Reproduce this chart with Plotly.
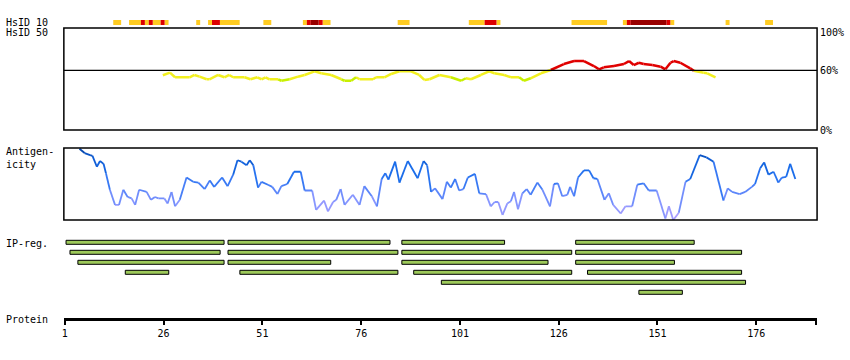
import plotly.graph_objects as go

W, H = 850, 360
X0_PX, X1_PX = 62, 817
PX_PER_RES = 3.96
RES_AT_X0 = 1 - (63 - X0_PX) / PX_PER_RES
RES_AT_X1 = RES_AT_X0 + (X1_PX - X0_PX) / PX_PER_RES
FONT = "DejaVu Sans Mono"


def pyf(p):
    return 1 - p / H


def pxf(p):
    return p / W


# ---------------- data ----------------
protein_ticks = [1, 26, 51, 76, 101, 126, 151, 176]

# HsID 10 strip: residue segments, level 1=yellow, 2=red, 3=dark red
hs10_first = [13, 17, 20, 21, 22, 23, 25, 26, 34, 37, 38, 40, 51, 61, 62, 63, 65, 66, 85,
              103, 107, 110, 129, 142, 143, 144, 153, 154, 168, 178]
hs10_last = [14, 19, 20, 21, 22, 24, 25, 26, 34, 37, 39, 44, 52, 61, 62, 64, 65, 67, 87,
             106, 109, 110, 137, 142, 143, 152, 153, 154, 168, 179]
hs10_level = [1, 1, 2, 1, 2, 1, 2, 1, 1, 1, 2, 1, 1, 1, 2, 3, 2, 1, 1,
              1, 2, 1, 1, 1, 2, 3, 2, 1, 1, 1]

# HsID 50 identity curve (%)
hs50_pos = [25.8, 27.6, 28.9, 32.6, 33.8, 35.1, 36.9, 37.6, 39.8, 41.4, 42.6, 43.6, 46.5, 48.0,
            49.7, 50.8, 51.8, 52.8, 55.0, 55.8, 57.9, 60.0, 61.7, 64.2, 65.9, 68.4, 71.0, 71.8,
            73.5, 74.7, 75.6, 79.0, 79.8, 81.9, 83.6, 85.7, 88.6, 90.7, 92.0, 93.3, 95.8, 98.7,
            101.3, 102.5, 103.8, 106.3, 108.4, 109.7, 112.2, 113.9, 116.0, 117.2, 118.9, 121.5,
            124.0, 127.3, 129.9, 132.4, 134.9, 136.2, 137.4, 140.0, 142.5, 143.8, 145.0, 146.3,
            147.5, 149.7, 151.8, 153.0, 154.3, 155.1, 156.8, 159.3, 160.2, 162.7, 163.6, 165.7]
hs50_val = [55.0, 57.6, 53.0, 53.0, 55.3, 53.6, 51.0, 51.0, 55.3, 53.0, 55.3, 53.0, 53.0, 51.0,
            53.0, 51.0, 53.0, 51.0, 51.0, 49.5, 51.0, 53.6, 55.3, 59.0, 57.0, 55.3, 51.0, 49.5,
            49.5, 53.0, 51.0, 51.0, 53.0, 53.0, 56.3, 59.0, 59.0, 55.3, 50.3, 51.0, 55.3, 53.0,
            49.5, 52.0, 51.0, 55.3, 59.0, 57.0, 55.3, 53.0, 53.0, 49.5, 52.0, 57.0,
            60.3, 66.3, 69.3, 69.3, 64.3, 61.0, 63.0, 64.3, 66.3, 69.3, 65.3, 67.6,
            66.3, 65.3, 63.6, 61.0, 67.6, 69.3, 67.6, 62.0, 59.6, 57.6, 57.0, 53.0]
HS50_THRESHOLD = 60
HS50_TICKS = [0, 60, 100]

# Antigenicity (relative score, 0 = bottom of panel, 1 = top)
ant_pos = [4.7, 6.0, 7.4, 8.0, 9.1, 9.9, 10.8, 11.4, 12.4, 13.7,
           14.7, 15.8, 16.9, 17.9, 18.8, 19.8, 21.7, 22.8, 23.8, 24.7,
           26.2, 27.0, 28.0, 28.9, 30.1, 31.8, 33.5, 34.8, 36.4, 37.7,
           38.8, 40.8, 42.2, 43.6, 44.7, 45.7, 47.0, 47.8, 48.7, 49.9,
           50.8, 52.4, 53.5, 54.8, 55.8, 57.3, 59.0, 60.7, 61.7, 63.6,
           64.6, 66.6, 67.6, 68.9, 69.7, 70.8, 71.8, 73.9, 75.6, 76.8,
           78.7, 80.0, 81.2, 82.1, 82.9, 84.6, 85.7, 87.8, 90.3, 91.8,
           92.7, 93.7, 94.7, 96.6, 97.7, 98.7, 99.8, 100.8, 101.9, 103.0,
           104.8, 105.9, 107.6, 108.8, 109.8, 110.7, 111.8, 113.0, 113.9, 114.7,
           115.7, 116.8, 117.9, 118.9, 120.6, 121.9, 123.8, 124.8, 125.8, 126.9,
           128.2, 128.9, 129.9, 130.9, 132.4, 133.7, 134.8, 135.8, 137.6, 138.7,
           139.8, 141.7, 142.9, 144.6, 145.9, 147.5, 148.8, 150.8, 153.0, 153.9,
           155.0, 156.4, 158.1, 159.3, 161.7, 163.4, 165.2, 167.7, 168.8, 169.9,
           171.8, 173.2, 174.9, 175.7, 177.0, 178.0, 179.1, 180.4, 181.6, 182.5,
           183.6, 184.6, 185.9]
ant_val = [0.99, 0.93, 0.90, 0.89, 0.74, 0.82, 0.78, 0.65, 0.42, 0.21,
           0.21, 0.42, 0.32, 0.30, 0.21, 0.42, 0.39, 0.28, 0.32, 0.30,
           0.30, 0.23, 0.39, 0.19, 0.28, 0.59, 0.53, 0.52, 0.43, 0.55,
           0.46, 0.59, 0.47, 0.63, 0.83, 0.81, 0.76, 0.83, 0.76, 0.45,
           0.53, 0.49, 0.46, 0.36, 0.47, 0.50, 0.67, 0.67, 0.41, 0.41,
           0.14, 0.27, 0.12, 0.25, 0.28, 0.43, 0.21, 0.35, 0.21, 0.47,
           0.33, 0.19, 0.57, 0.65, 0.56, 0.81, 0.52, 0.82, 0.58, 0.82,
           0.76, 0.39, 0.44, 0.29, 0.53, 0.45, 0.57, 0.41, 0.43, 0.59,
           0.64, 0.37, 0.36, 0.19, 0.25, 0.25, 0.07, 0.23, 0.26, 0.39,
           0.15, 0.37, 0.43, 0.35, 0.52, 0.42, 0.19, 0.50, 0.51, 0.33,
           0.35, 0.46, 0.33, 0.59, 0.69, 0.69, 0.58, 0.57, 0.28, 0.37,
           0.21, 0.09, 0.19, 0.19, 0.49, 0.51, 0.41, 0.41, 0.02, 0.19,
           0.00, 0.10, 0.53, 0.57, 0.90, 0.87, 0.81, 0.27, 0.44, 0.39,
           0.36, 0.39, 0.46, 0.50, 0.72, 0.80, 0.63, 0.67, 0.52, 0.59,
           0.60, 0.78, 0.57]

# IP-regions (row index, start residue, end residue)
ip_row = [0, 0, 0, 0, 1, 1, 1, 1, 2, 2, 2, 2, 3, 3, 3, 3, 4, 5]
ip_start = [1, 42, 86, 130, 2, 42, 86, 130, 4, 42, 86, 130, 16, 45, 89, 133, 96, 146]
ip_end = [41, 83, 112, 160, 40, 85, 129, 172, 41, 68, 123, 155, 27, 85, 129, 172, 173, 157]

# ---------------- figure ----------------
fig = go.Figure()

# HsID 10 strip
hs10_colors = {1: "#ffcc22", 2: "#dd0000", 3: "#990000"}
for lev in (1, 2, 3):
    idx = [i for i, l in enumerate(hs10_level) if l == lev]
    fig.add_trace(go.Bar(
        orientation="h",
        y=[0.5] * len(idx),
        base=[hs10_first[i] + 0.25 for i in idx],
        x=[hs10_last[i] - hs10_first[i] + 1 for i in idx],
        width=1, marker=dict(color=hs10_colors[lev], line=dict(width=0)),
        xaxis="x", yaxis="y", showlegend=False, hoverinfo="skip"))


# HsID 50 curve, coloured by level
def hs50_color(a, b):
    m = (a + b) / 2
    if m >= HS50_THRESHOLD:
        return "#e00000"
    if min(a, b) < 50:
        return "#c8f000"
    return "#f2f020"


groups = {}
for i in range(len(hs50_pos) - 1):
    c = hs50_color(hs50_val[i], hs50_val[i + 1])
    gx, gy = groups.setdefault(c, ([], []))
    gx += [hs50_pos[i], hs50_pos[i + 1], None]
    gy += [hs50_val[i], hs50_val[i + 1], None]
for c in ["#f2f020", "#c8f000", "#e00000"]:
    if c in groups:
        fig.add_trace(go.Scatter(x=groups[c][0], y=groups[c][1], mode="lines",
                                 line=dict(color=c, width=2.5), xaxis="x", yaxis="y2",
                                 showlegend=False, hoverinfo="skip"))

# Antigenicity curve with blue gradient
stops = [(0.0, (176, 160, 255)), (0.25, (135, 150, 255)), (0.45, (75, 128, 248)),
         (0.65, (30, 112, 238)), (0.85, (12, 90, 210)), (1.0, (5, 68, 165))]


def grad(v):
    for (v0, c0), (v1, c1) in zip(stops[:-1], stops[1:]):
        if v <= v1:
            t = (v - v0) / (v1 - v0)
            return "rgb(%d,%d,%d)" % tuple(round(c0[k] + t * (c1[k] - c0[k])) for k in range(3))
    return "rgb(%d,%d,%d)" % stops[-1][1]


NB = 14
bins = {}
for i in range(len(ant_pos) - 1):
    m = (ant_val[i] + ant_val[i + 1]) / 2
    b = min(NB - 1, int(m * NB))
    bx, by = bins.setdefault(b, ([], []))
    bx += [ant_pos[i], ant_pos[i + 1], None]
    by += [ant_val[i], ant_val[i + 1], None]
for b in sorted(bins):
    fig.add_trace(go.Scatter(x=bins[b][0], y=bins[b][1], mode="lines",
                             line=dict(color=grad((b + 0.5) / NB), width=1.8),
                             xaxis="x", yaxis="y3", showlegend=False, hoverinfo="skip"))

# IP-reg bars
fig.add_trace(go.Bar(
    orientation="h",
    y=[r + 0.5 for r in ip_row],
    base=[s + 0.3 for s in ip_start],
    x=[e - s for s, e in zip(ip_start, ip_end)],
    width=0.4,
    marker=dict(color="#9dc95a", line=dict(color="black", width=1)),
    xaxis="x", yaxis="y4", showlegend=False, hoverinfo="skip"))

# ---------------- layout ----------------
shapes = [
    dict(type="rect", xref="paper", yref="paper", x0=pxf(X0_PX), x1=pxf(X1_PX),
         y0=pyf(130), y1=pyf(28), line=dict(color="black", width=1.5)),
    dict(type="rect", xref="paper", yref="paper", x0=pxf(X0_PX), x1=pxf(X1_PX),
         y0=pyf(220), y1=pyf(148), line=dict(color="black", width=1.5)),
    dict(type="line", xref="paper", yref="y2", x0=pxf(X0_PX), x1=pxf(X1_PX),
         y0=HS50_THRESHOLD, y1=HS50_THRESHOLD, line=dict(color="black", width=1.2)),
]

ann = []


def label(text, x, y, xanchor="left"):
    ann.append(dict(text=text, xref="paper", yref="paper", x=pxf(x), y=pyf(y),
                    xanchor=xanchor, yanchor="middle", showarrow=False, align="left",
                    font=dict(family=FONT, size=10, color="black")))


label("HsID 10", 2, 22)
label("HsID 50", 2, 32.5)
label("Antigen-<br>icity", 2, 158)
label("IP-reg.", 2, 243.5)
label("Protein", 2, 319.5)
hs50_pix = {100: 32.7, 60: 70.7, 0: 130}
for t in HS50_TICKS:
    label("%d%%" % t, 818, hs50_pix[t])

hs50_top = 100 * (130 - 28) / 99.5

fig.update_layout(
    width=W, height=H, margin=dict(l=0, r=0, t=0, b=0),
    paper_bgcolor="white", plot_bgcolor="white",
    barmode="overlay", showlegend=False,
    shapes=shapes, annotations=ann,
    xaxis=dict(domain=[pxf(X0_PX), pxf(X1_PX)], range=[RES_AT_X0, RES_AT_X1],
               anchor="free", position=pyf(319), showline=True, linewidth=3,
               linecolor="black", ticks="outside", ticklen=4, tickwidth=2,
               tickcolor="black",
               tickvals=protein_ticks + [RES_AT_X1 - 0.15],
               ticktext=[str(t) for t in protein_ticks] + [""],
               tickfont=dict(family=FONT, size=10, color="black"),
               showgrid=False, zeroline=False, fixedrange=True),
    yaxis=dict(domain=[pyf(25), pyf(20)], range=[0, 1], visible=False, fixedrange=True),
    yaxis2=dict(domain=[pyf(130), pyf(28)], range=[0, hs50_top], visible=False,
                fixedrange=True),
    yaxis3=dict(domain=[pyf(220), pyf(148)], range=[0, 1], visible=False, fixedrange=True),
    yaxis4=dict(domain=[pyf(297.3), pyf(237.3)], range=[6, 0], visible=False,
                fixedrange=True),
)

fig.write_html("out.html", config={"displayModeBar": False},
               post_script="document.body.style.margin='0';document.body.style.overflow='hidden';")
